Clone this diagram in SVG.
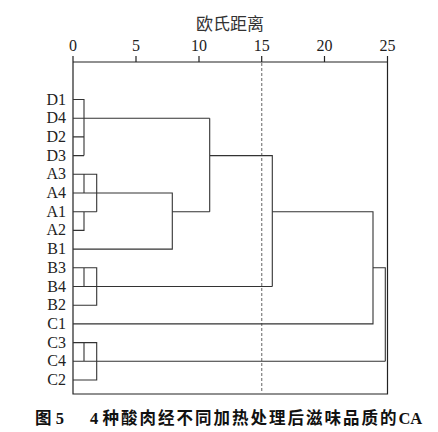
<svg xmlns="http://www.w3.org/2000/svg" width="438" height="432" viewBox="0 0 438 432">
<style>
.lbl{font-family:"Liberation Serif","Times New Roman",serif;font-size:16px;fill:#222;}
.tick{font-family:"Liberation Serif","Times New Roman",serif;font-size:16px;fill:#222;text-anchor:middle;}
.ttl{font-family:"Noto Sans CJK SC",sans-serif;font-size:17px;fill:#333;text-anchor:middle;}
.cap{font-family:"Liberation Serif","Noto Sans CJK SC",serif;font-size:16.5px;font-weight:bold;fill:#111;}
.ln{fill:none;stroke:#333;stroke-width:1.1;}
.ax{fill:none;stroke:#222;stroke-width:1.2;}
.dash{fill:none;stroke:#888;stroke-width:1.3;stroke-dasharray:3,2;}
</style>
<rect width="438" height="432" fill="#fff"/>
<g id="axis">
<text class="ttl" x="230" y="30">欧氏距离</text>
<text class="tick" x="73" y="51">0</text>
<text class="tick" x="136" y="51">5</text>
<text class="tick" x="199" y="51">10</text>
<text class="tick" x="261.7" y="51">15</text>
<text class="tick" x="324.5" y="51">20</text>
<text class="tick" x="387.5" y="51">25</text>
<path class="ax" d="M73,62H387.5M73,56V62M136,56V62M199,56V62M261.7,56V62M324.5,56V62M387.5,56V62"/>
<path class="ax" d="M73,62V394H387.5V62"/>
</g>
<g id="cutline">
<path class="dash" d="M261.7,63V393"/>
</g>
<g id="labels" class="lbl" text-anchor="end">
<text id="D1" x="66" y="104.5">D1</text>
<text id="D4" x="66" y="123.2">D4</text>
<text id="D2" x="66" y="141.9">D2</text>
<text id="D3" x="66" y="160.6">D3</text>
<text id="A3" x="66" y="179.3">A3</text>
<text id="A4" x="66" y="198">A4</text>
<text id="A1" x="66" y="216.7">A1</text>
<text id="A2" x="66" y="235.4">A2</text>
<text id="B1" x="66" y="254.1">B1</text>
<text id="B3" x="66" y="272.8">B3</text>
<text id="B4" x="66" y="291.5">B4</text>
<text id="B2" x="66" y="310.2">B2</text>
<text id="C1" x="66" y="328.9">C1</text>
<text id="C3" x="66" y="347.6">C3</text>
<text id="C4" x="66" y="366.3">C4</text>
<text id="C2" x="66" y="385">C2</text>
</g>
<g id="connectors">
<path class="ln" d="M73,99.5H84V155.6M73,136.9H84M73,155.6H84M73,118.2H209.7"/>
<path class="ln" d="M73,174.3H96.7V211.7M84,174.3V193M73,211.7H96.7M84,211.7V230.4H73M73,193H172.3V249.1H73"/>
<path class="ln" d="M172.3,211.7H209.7M209.7,118.2V211.7M209.7,155.6H272.3V286.5"/>
<path class="ln" d="M73,267.8H96.7V305.2H73M84,267.8V286.5M73,286.5H272.3"/>
<path class="ln" d="M272.3,211.7H373V323.9H73M373,267.8H385.3V361.3"/>
<path class="ln" d="M73,342.6H96.7V380H73M84,342.6V361.3M73,361.3H385.3"/>
</g>
<g id="caption">
<text class="cap" x="35" y="424">图 5</text>
<text class="cap" x="90" y="424">4 <tspan letter-spacing="2">种酸肉经不同加热处理后滋味品质的</tspan>CA</text>
</g>
</svg>
